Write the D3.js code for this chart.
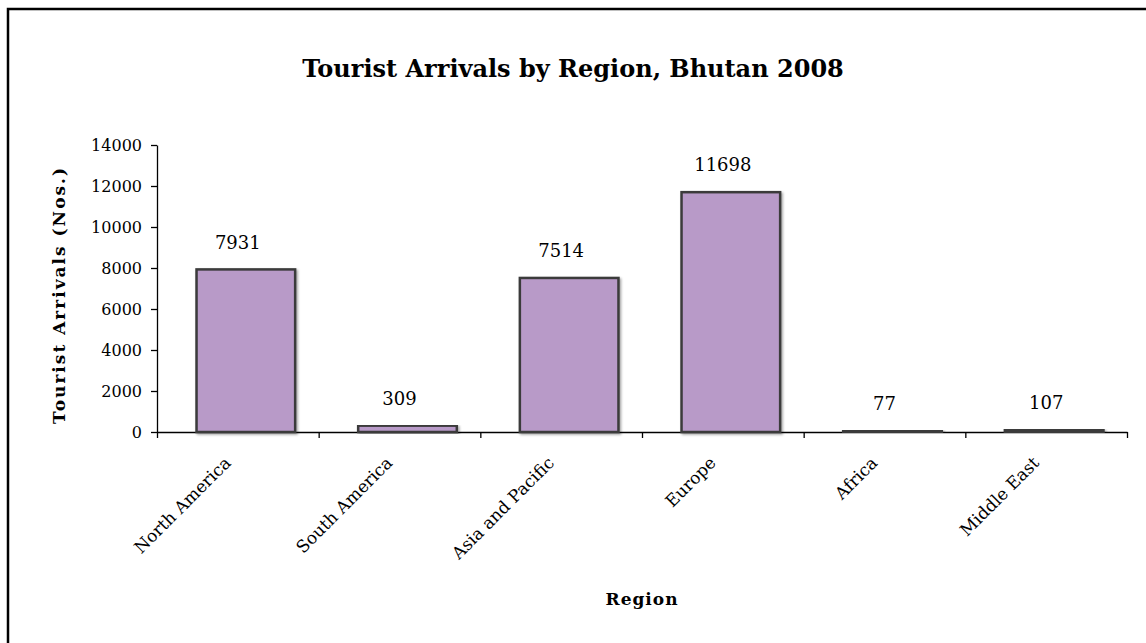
<!DOCTYPE html>
<html>
<head>
<meta charset="utf-8">
<script src="https://cdn.jsdelivr.net/npm/d3@7"></script>
<style>
  body { margin: 0; background: #fff; }
  text { font-family: "DejaVu Serif", serif; fill: #000; }
</style>
</head>
<body>
<div id="chart-area"></div>
<script>
// data
let regions = ["North America", "South America", "Asia and Pacific", "Europe", "Africa", "Middle East"]
let arrivals = [7931, 309, 7514, 11698, 77, 107]
let yTicks = [0, 2000, 4000, 6000, 8000, 10000, 12000, 14000]

let width = 1146
let height = 643
let margin = {top: 145, right: 19, bottom: 211, left: 157}

let canvasWidth = width - margin.left - margin.right
let canvasHeight = height - margin.top - margin.bottom

let svg = d3.select("#chart-area").append("svg")
  .attr("width", width)
  .attr("height", height)

// drop shadow for the bars
let defs = svg.append("defs")
defs.append("filter")
  .attr("id", "shadow")
  .attr("x", "-10%").attr("y", "-10%")
  .attr("width", "130%").attr("height", "130%")
  .append("feDropShadow")
    .attr("dx", 1.5)
    .attr("dy", 1.5)
    .attr("stdDeviation", 1)
    .attr("flood-color", "#000")
    .attr("flood-opacity", 0.35)

// frame, only top and left edges fall inside the picture
svg.append("rect")
  .attr("x", 8)
  .attr("y", 9)
  .attr("width", width + 50)
  .attr("height", height + 50)
  .attr("fill", "none")
  .attr("stroke", "#000")
  .attr("stroke-width", 2.5)

// title
svg.append("text")
  .attr("x", width / 2)
  .attr("y", 77)
  .attr("text-anchor", "middle")
  .attr("font-size", "24px")
  .attr("font-weight", "bold")
  .text("Tourist Arrivals by Region, Bhutan 2008")

let group = svg.append("g")
  .attr("transform", "translate(" + margin.left + ", " + margin.top + ")")

let y = d3.scaleLinear()
  .domain([0, 14000])
  .range([canvasHeight, 0])

let x = d3.scaleBand()
  .domain(regions)
  .range([0, canvasWidth])

// linear index scale, used for the category boundary ticks
let xIdx = d3.scaleLinear()
  .domain([0, regions.length])
  .range([0, canvasWidth])

let yAxisCall = d3.axisLeft(y)
  .tickValues(yTicks)
  .tickFormat(d3.format("d"))
  .tickSize(6)
  .tickSizeOuter(0)
  .tickPadding(9)
let yAxis = group.append("g")
  .attr("class", "y-axis")
  .call(yAxisCall)
yAxis.selectAll("text")
  .attr("font-size", "16px")
  .style("font-family", "DejaVu Serif, serif")
  .attr("fill", "#000")

let xAxisCall = d3.axisBottom(xIdx)
  .tickValues(d3.range(regions.length + 1))
  .tickFormat("")
  .tickSize(6)
  .tickSizeOuter(0)
group.append("g")
  .attr("class", "x-axis")
  .attr("transform", "translate(0, " + canvasHeight + ")")
  .call(xAxisCall)

group.selectAll(".domain, .tick line")
  .attr("stroke", "#000")
  .attr("stroke-width", 1.3)

// bars (drawn a little right of the band centre, like the source)
let barShift = 8
let barWidth = x.bandwidth() * 0.61
group.selectAll("rect.bar")
  .data(arrivals)
  .enter()
  .append("rect")
    .attr("class", "bar")
    .attr("x", (d, i) => x(regions[i]) + x.bandwidth() / 2 - barWidth / 2 + barShift)
    .attr("y", d => y(d))
    .attr("width", barWidth)
    .attr("height", d => canvasHeight - y(d))
    .attr("fill", "#b89ac8")
    .attr("stroke", "#3a3a3a")
    .attr("stroke-width", 2.5)
    .attr("filter", "url(#shadow)")

// value labels
group.selectAll("text.value")
  .data(arrivals)
  .enter()
  .append("text")
    .attr("class", "value")
    .attr("x", (d, i) => x(regions[i]) + x.bandwidth() / 2)
    .attr("y", d => y(d) - 27)
    .attr("dy", "0.35em")
    .attr("text-anchor", "middle")
    .attr("font-size", "18px")
    .text(d => d)

// category labels, rotated
group.selectAll("text.cat")
  .data(regions)
  .enter()
  .append("text")
    .attr("class", "cat")
    .attr("text-anchor", "end")
    .attr("font-size", "17px")
    .attr("transform", d => "translate(" + (x(d) + x.bandwidth() / 2 - 6) + ", " + (canvasHeight + 32) + ") rotate(-45)")
    .text(d => d)

// Y label
group.append("text")
  .attr("x", -150)
  .attr("y", -92)
  .attr("text-anchor", "middle")
  .attr("font-size", "17px")
  .attr("font-weight", "bold")
  .attr("letter-spacing", "2px")
  .attr("transform", "rotate(-90)")
  .text("Tourist Arrivals (Nos.)")

// X label
group.append("text")
  .attr("x", canvasWidth / 2)
  .attr("y", canvasHeight + 173)
  .attr("text-anchor", "middle")
  .attr("font-size", "17px")
  .attr("font-weight", "bold")
  .attr("letter-spacing", "1px")
  .text("Region")
</script>
</body>
</html>
